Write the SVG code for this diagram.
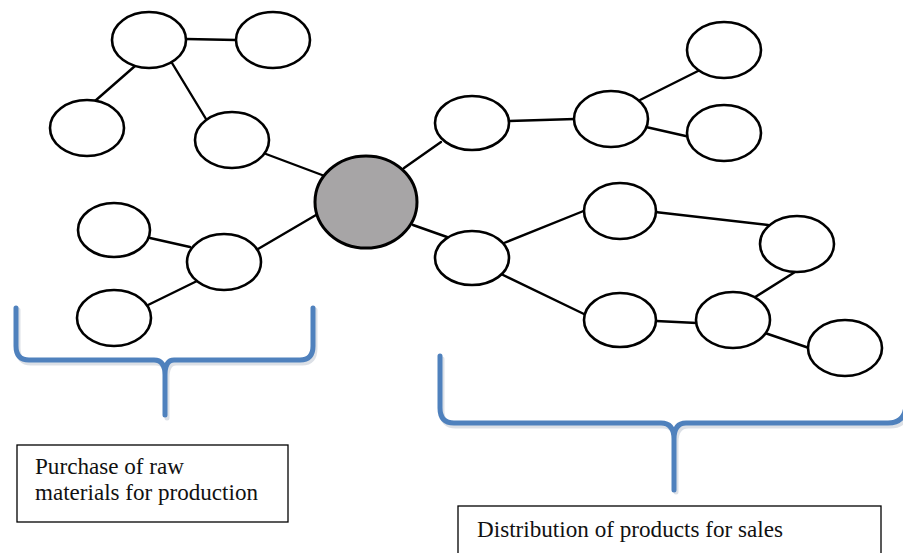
<svg xmlns="http://www.w3.org/2000/svg" width="903" height="553" viewBox="0 0 903 553">
  <style>
    .node { fill: #ffffff; stroke: #000000; stroke-width: 2.6; }
    .hub { fill: #a7a5a6; stroke: #000000; stroke-width: 3; }
    .edge { stroke: #000000; stroke-width: 2.4; fill: none; stroke-linecap: round; }
    .brace { fill: none; stroke: #4f81bd; stroke-width: 5; stroke-linecap: round; stroke-linejoin: round; }
    .brace-shadow { fill: none; stroke: #9aa7b8; stroke-width: 5; stroke-opacity: 0.35; stroke-linecap: round; }
    .box { fill: #ffffff; stroke: #000000; stroke-width: 1.3; }
    .label { font-family: "Liberation Serif", "Times New Roman", serif; font-size: 22.5px; fill: #111111; }
  </style>

  <rect x="0" y="0" width="903" height="553" fill="#ffffff"/>

  <!-- connectors -->
  <g id="connectors">
    <line class="edge" x1="186" y1="39" x2="236" y2="40"/>
    <line class="edge" x1="135" y1="66" x2="95" y2="101"/>
    <line class="edge" x1="172" y1="63" x2="206" y2="119"/>
    <line class="edge" x1="266" y1="154" x2="330" y2="178"/>
    <line class="edge" x1="316" y1="215" x2="258" y2="249"/>
    <line class="edge" x1="150" y1="238" x2="190" y2="247"/>
    <line class="edge" x1="197" y1="281" x2="148" y2="305"/>
    <line class="edge" x1="404" y1="168" x2="441" y2="142"/>
    <line class="edge" x1="509" y1="121" x2="575" y2="119"/>
    <line class="edge" x1="640" y1="100" x2="700" y2="70"/>
    <line class="edge" x1="646" y1="127" x2="690" y2="137"/>
    <line class="edge" x1="413" y1="225" x2="447" y2="237"/>
    <line class="edge" x1="504" y1="243" x2="586" y2="210"/>
    <line class="edge" x1="655" y1="212" x2="768" y2="225"/>
    <line class="edge" x1="499" y1="273" x2="586" y2="315"/>
    <line class="edge" x1="656" y1="321" x2="697" y2="323"/>
    <line class="edge" x1="795" y1="272" x2="752" y2="299"/>
    <line class="edge" x1="765" y1="333" x2="812" y2="349"/>
  </g>

  <!-- nodes -->
  <g id="hub"><ellipse class="hub" cx="366" cy="202" rx="51" ry="46"/></g>
  <g id="n-a"><ellipse class="node" cx="149" cy="40" rx="37" ry="28"/></g>
  <g id="n-b"><ellipse class="node" cx="273" cy="40" rx="37" ry="28"/></g>
  <g id="n-c"><ellipse class="node" cx="87" cy="128" rx="37" ry="28"/></g>
  <g id="n-d"><ellipse class="node" cx="232" cy="140" rx="37" ry="28"/></g>
  <g id="n-e"><ellipse class="node" cx="114" cy="230" rx="36" ry="27"/></g>
  <g id="n-f"><ellipse class="node" cx="224" cy="262" rx="37" ry="28"/></g>
  <g id="n-g"><ellipse class="node" cx="114" cy="318" rx="37" ry="28"/></g>
  <g id="n-h"><ellipse class="node" cx="472" cy="123" rx="37" ry="27"/></g>
  <g id="n-i"><ellipse class="node" cx="611" cy="119" rx="37" ry="28"/></g>
  <g id="n-j"><ellipse class="node" cx="724" cy="50" rx="37" ry="28"/></g>
  <g id="n-k"><ellipse class="node" cx="724" cy="133" rx="37" ry="28"/></g>
  <g id="n-l"><ellipse class="node" cx="472" cy="258" rx="37" ry="27"/></g>
  <g id="n-m"><ellipse class="node" cx="620" cy="211" rx="36" ry="28"/></g>
  <g id="n-n"><ellipse class="node" cx="797" cy="244" rx="37" ry="28"/></g>
  <g id="n-o"><ellipse class="node" cx="620" cy="320" rx="36" ry="27"/></g>
  <g id="n-p"><ellipse class="node" cx="733" cy="320" rx="37" ry="28"/></g>
  <g id="n-q"><ellipse class="node" cx="845" cy="348" rx="37" ry="28"/></g>

  <!-- braces -->
  <g id="brace-left">
    <path class="brace-shadow" d="M18,310 V348 Q18,363 31,363 H156 Q167,363 167,378 V418 M315,310 V348 Q315,363 302,363 H176 Q167,363 167,378"/>
    <path class="brace" d="M16,308 V346 Q16,360 29,360 H154 Q165,360 165,375 V415 M313,308 V346 Q313,360 300,360 H174 Q165,360 165,375"/>
  </g>
  <g id="brace-right">
    <path class="brace-shadow" d="M442,359 V411 Q442,426 456,426 H663 Q676,426 676,442 V492 M908,359 V406 Q908,426 890,426 H688 Q676,426 676,442"/>
    <path class="brace" d="M440,356 V408 Q440,423 454,423 H661 Q674,423 674,439 V490 M906,356 V403 Q906,423 888,423 H686 Q674,423 674,439"/>
  </g>

  <!-- captions -->
  <g id="box-purchase">
    <rect class="box" x="17" y="445" width="271" height="77"/>
    <text class="label" x="35" y="474" textLength="149" lengthAdjust="spacingAndGlyphs">Purchase of raw</text>
    <text class="label" x="35" y="500" textLength="223" lengthAdjust="spacingAndGlyphs">materials for production</text>
  </g>
  <g id="box-distribution">
    <rect class="box" x="458" y="506" width="423" height="60"/>
    <text class="label" x="477" y="537" textLength="306" lengthAdjust="spacingAndGlyphs">Distribution of products for sales</text>
  </g>
</svg>
